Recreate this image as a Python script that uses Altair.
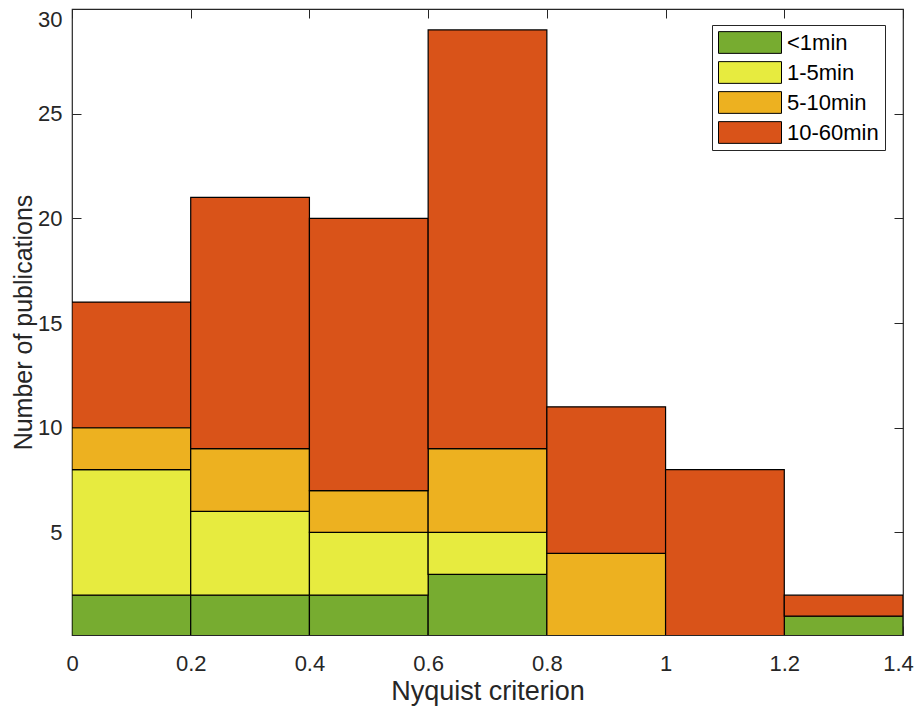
import altair as alt
import pandas as pd

bin_start = [0.0, 0.2, 0.4, 0.6, 0.8, 1.0, 1.2]
bin_end = [0.2, 0.4, 0.6, 0.8, 1.0, 1.2, 1.4]
categories = ["<1min", "1-5min", "5-10min", "10-60min"]
colors = ["#77AC30", "#E7EB3F", "#EDB120", "#D95319"]
counts = {
    "<1min":    [2, 2, 2, 3, 0, 0, 1],
    "1-5min":   [6, 4, 3, 2, 0, 0, 0],
    "5-10min":  [2, 3, 2, 4, 4, 0, 0],
    "10-60min": [6, 12, 13, 20, 7, 8, 1],
}
x_ticks = [0.0, 0.2, 0.4, 0.6, 0.8, 1.0, 1.2, 1.4]
y_ticks = [5, 10, 15, 20, 25, 30]

rows = []
for ci, cat in enumerate(categories):
    for bi in range(len(bin_start)):
        rows.append({"x0": bin_start[bi], "x1": bin_end[bi], "cat": cat,
                     "order": ci, "bin": bi, "n": counts[cat][bi]})
df = pd.DataFrame(rows)

axis_col = "#262626"
font = "Liberation Sans"
xscale = alt.Scale(domain=[0, 1.4], nice=False, zero=False)
yscale = alt.Scale(domain=[0.1, 30], nice=False, zero=False)

base = alt.Chart(df).transform_stack(
    stack="n", groupby=["bin"], as_=["y0", "y1"],
    sort=[alt.SortField("order", order="ascending")]
).transform_filter("datum.n > 0")

bars = base.mark_rect(stroke="black", strokeWidth=1.2, clip=True).encode(
    x=alt.X("x0:Q", scale=xscale,
            axis=alt.Axis(values=x_ticks, format=".1~f", title="Nyquist criterion",
                          orient="bottom", offset=-9, tickSize=9, domain=False,
                          grid=False, labelPadding=18.5, titlePadding=4,
                          labelFlush=False, titleFontSize=27,
                          labelOffset={"condition": {"test": "datum.value >= 1.39", "value": -5},
                                       "value": 0})),
    x2="x1:Q",
    y=alt.Y("y0:Q", scale=yscale,
            axis=alt.Axis(values=y_ticks, title="Number of publications",
                          orient="left", offset=-9, tickSize=9, domain=False,
                          grid=False, labelPadding=10, titlePadding=6.5,
                          titleBaseline="alphabetic", labelFlush=True,
                          titleFontSize=25)),
    y2="y1:Q",
    color=alt.Color("cat:N", scale=alt.Scale(domain=categories, range=colors),
                    legend=alt.Legend(title=None, orient="none", legendX=640, legendY=16,
                                      symbolType="M-1,-0.345L1,-0.345L1,0.345L-1,0.345Z",
                                      symbolSize=3969, clipHeight=23,
                                      symbolStrokeColor="black",
                                      symbolStrokeWidth=1, symbolOpacity=1,
                                      labelFontSize=22, labelFont=font,
                                      labelColor="black", padding=6, rowPadding=7,
                                      strokeColor=axis_col, fillColor="white",
                                      labelOffset=5, symbolOffset=0)),
)

mirror = base.mark_rect(opacity=0).encode(
    x=alt.X("x0:Q", scale=xscale,
            axis=alt.Axis(values=x_ticks, labels=False, title=None, orient="top",
                          offset=-9, tickSize=9, domain=False, grid=False)),
    x2="x1:Q",
    y=alt.Y("y0:Q", scale=yscale,
            axis=alt.Axis(values=y_ticks, labels=False, title=None, orient="right",
                          offset=-9, tickSize=9, domain=False, grid=False)),
    y2="y1:Q",
)

chart = alt.layer(bars, mirror).resolve_axis(x="independent", y="independent").properties(
    width=831, height=626,
    autosize=alt.AutoSizeParams(type="none"),
    padding={"left": 64, "top": 1, "right": 11, "bottom": 72},
).configure_view(stroke=axis_col, strokeWidth=1.2).configure_axis(
    labelFont=font, titleFont=font,
    labelFontSize=22, labelColor=axis_col, titleColor=axis_col,
    titleFontWeight="normal", tickColor=axis_col, tickWidth=1,
)

chart.save("out.html", embed_options={"renderer": "svg", "actions": False})
